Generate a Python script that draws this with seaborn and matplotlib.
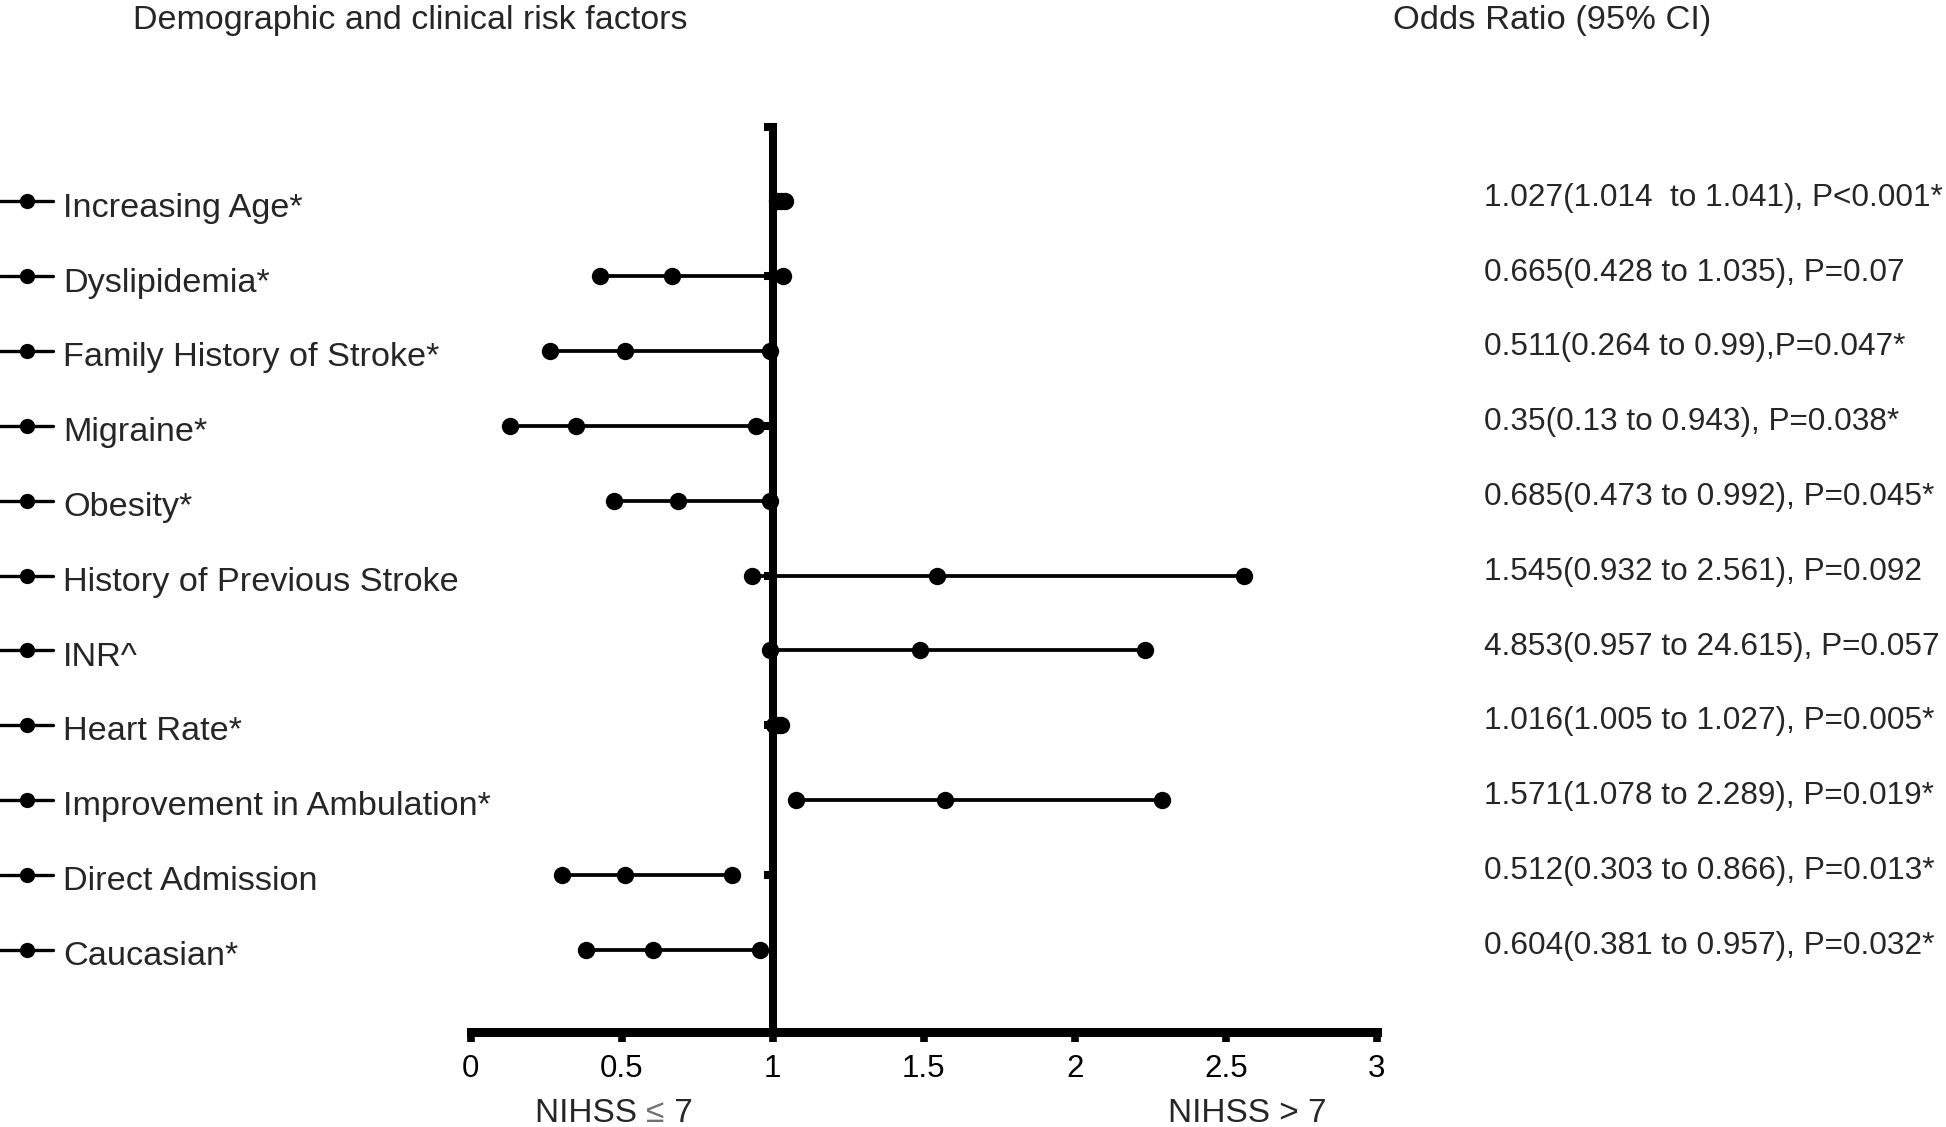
import numpy as np
import pandas as pd
import matplotlib
matplotlib.use("Agg")
import matplotlib.pyplot as plt
import matplotlib.transforms as mtransforms
import seaborn as sns

### donnees
factors = ["Increasing Age*", "Dyslipidemia*", "Family History of Stroke*",
           "Migraine*", "Obesity*", "History of Previous Stroke", "INR^",
           "Heart Rate*", "Improvement in Ambulation*", "Direct Admission",
           "Caucasian*"]
# INR is drawn in the figure at other positions than its reported values
ci_low = [1.014, 0.428, 0.264, 0.13, 0.473, 0.932, 0.99, 1.005, 1.078, 0.303, 0.381]
odds = [1.027, 0.665, 0.511, 0.35, 0.685, 1.545, 1.486, 1.016, 1.571, 0.512, 0.604]
ci_high = [1.041, 1.035, 0.99, 0.943, 0.992, 2.561, 2.231, 1.027, 2.289, 0.866, 0.957]
results = ["1.027(1.014  to 1.041), P<0.001*",
           "0.665(0.428 to 1.035), P=0.07",
           "0.511(0.264 to 0.99),P=0.047*",
           "0.35(0.13 to 0.943), P=0.038*",
           "0.685(0.473 to 0.992), P=0.045*",
           "1.545(0.932 to 2.561), P=0.092",
           "4.853(0.957 to 24.615), P=0.057",
           "1.016(1.005 to 1.027), P=0.005*",
           "1.571(1.078 to 2.289), P=0.019*",
           "0.512(0.303 to 0.866), P=0.013*",
           "0.604(0.381 to 0.957), P=0.032*"]
x_ticks = [0, 0.5, 1, 1.5, 2, 2.5, 3]
x_ticklabels = ["0", "0.5", "1", "1.5", "2", "2.5", "3"]

rows = list(range(len(factors)))
df = pd.DataFrame({
    "factor": np.repeat(factors, 3),
    "row": np.repeat(rows, 3),
    "value": np.ravel(np.column_stack([ci_low, odds, ci_high])),
})

sns.set_theme(style="ticks")
plt.rcParams["font.family"] = ["Liberation Sans", "DejaVu Sans"]

fig = plt.figure(figsize=(19.46, 11.27), dpi=100)
ax = fig.add_axes([0.2419, 0.0843, 0.4656, 0.8033])

sns.lineplot(data=df, x="value", y="row", units="factor", estimator=None,
             color="black", linewidth=2.7, marker="o", markersize=12.5,
             markeredgewidth=0, ax=ax, legend=False)

ax.set_xlim(0, 3)
ax.set_ylim(11.1, -1.0)
ax.set_xlabel("")
ax.set_ylabel("")
ax.set_xticks(x_ticks)
ax.set_xticklabels(x_ticklabels, fontsize=22.5, color="black")

# ligne verticale = axe y place a OR = 1 (graduations tous les 2 rangs)
ax.spines["top"].set_visible(False)
ax.spines["right"].set_visible(False)
ax.spines["left"].set_position(("data", 1))
ax.spines["left"].set_linewidth(5.8)
ax.spines["bottom"].set_linewidth(6.5)
ax.spines["left"].set_color("black")
ax.spines["bottom"].set_color("black")
ax.set_yticks(list(range(-1, 11, 2)))
ax.tick_params(axis="y", direction="out", length=6.5, width=5.8,
               color="black", labelleft=False)
ax.tick_params(axis="x", direction="out", length=7.5, width=5.5,
               color="black", pad=8)

# etiquettes a gauche, style legende
trans_l = mtransforms.blended_transform_factory(fig.transFigure, ax.transData)
for r, name in zip(rows, factors):
    ax.plot([0.0, 0.0272], [r, r], color="black", lw=2.4,
            transform=trans_l, clip_on=False)
    ax.plot([0.0139], [r], marker="o", ms=11, mew=0, color="black",
            transform=trans_l, clip_on=False)
    ax.text(0.0324, r + 0.09, name, transform=trans_l, fontsize=24.7,
            ha="left", va="center")

# resultats a droite
for r, txt in zip(rows, results):
    ax.text(0.7626, r - 0.05, txt, transform=trans_l, fontsize=22.7,
            ha="left", va="center")

fig.text(0.0683, 0.9745, "Demographic and clinical risk factors",
         fontsize=24.5, ha="left", va="baseline")
fig.text(0.7158, 0.9745, "Odds Ratio (95% CI)",
         fontsize=24.8, ha="left", va="baseline")

# NIHSS <= 7 avec le signe en gris
t1 = fig.text(0.2749, 0.0044, "NIHSS ", fontsize=24, ha="left", va="baseline")
a2 = ax.annotate("\u2264", xy=(1, 0), xycoords=t1, fontsize=24,
                 color="#707070", ha="left", va="bottom")
ax.annotate(" 7", xy=(1, 0), xycoords=a2, fontsize=24, ha="left", va="bottom")
fig.text(0.6408, 0.0044, "NIHSS > 7", fontsize=24, ha="center", va="baseline")

plt.savefig("out.png", dpi=100, facecolor="white")
plt.close()
